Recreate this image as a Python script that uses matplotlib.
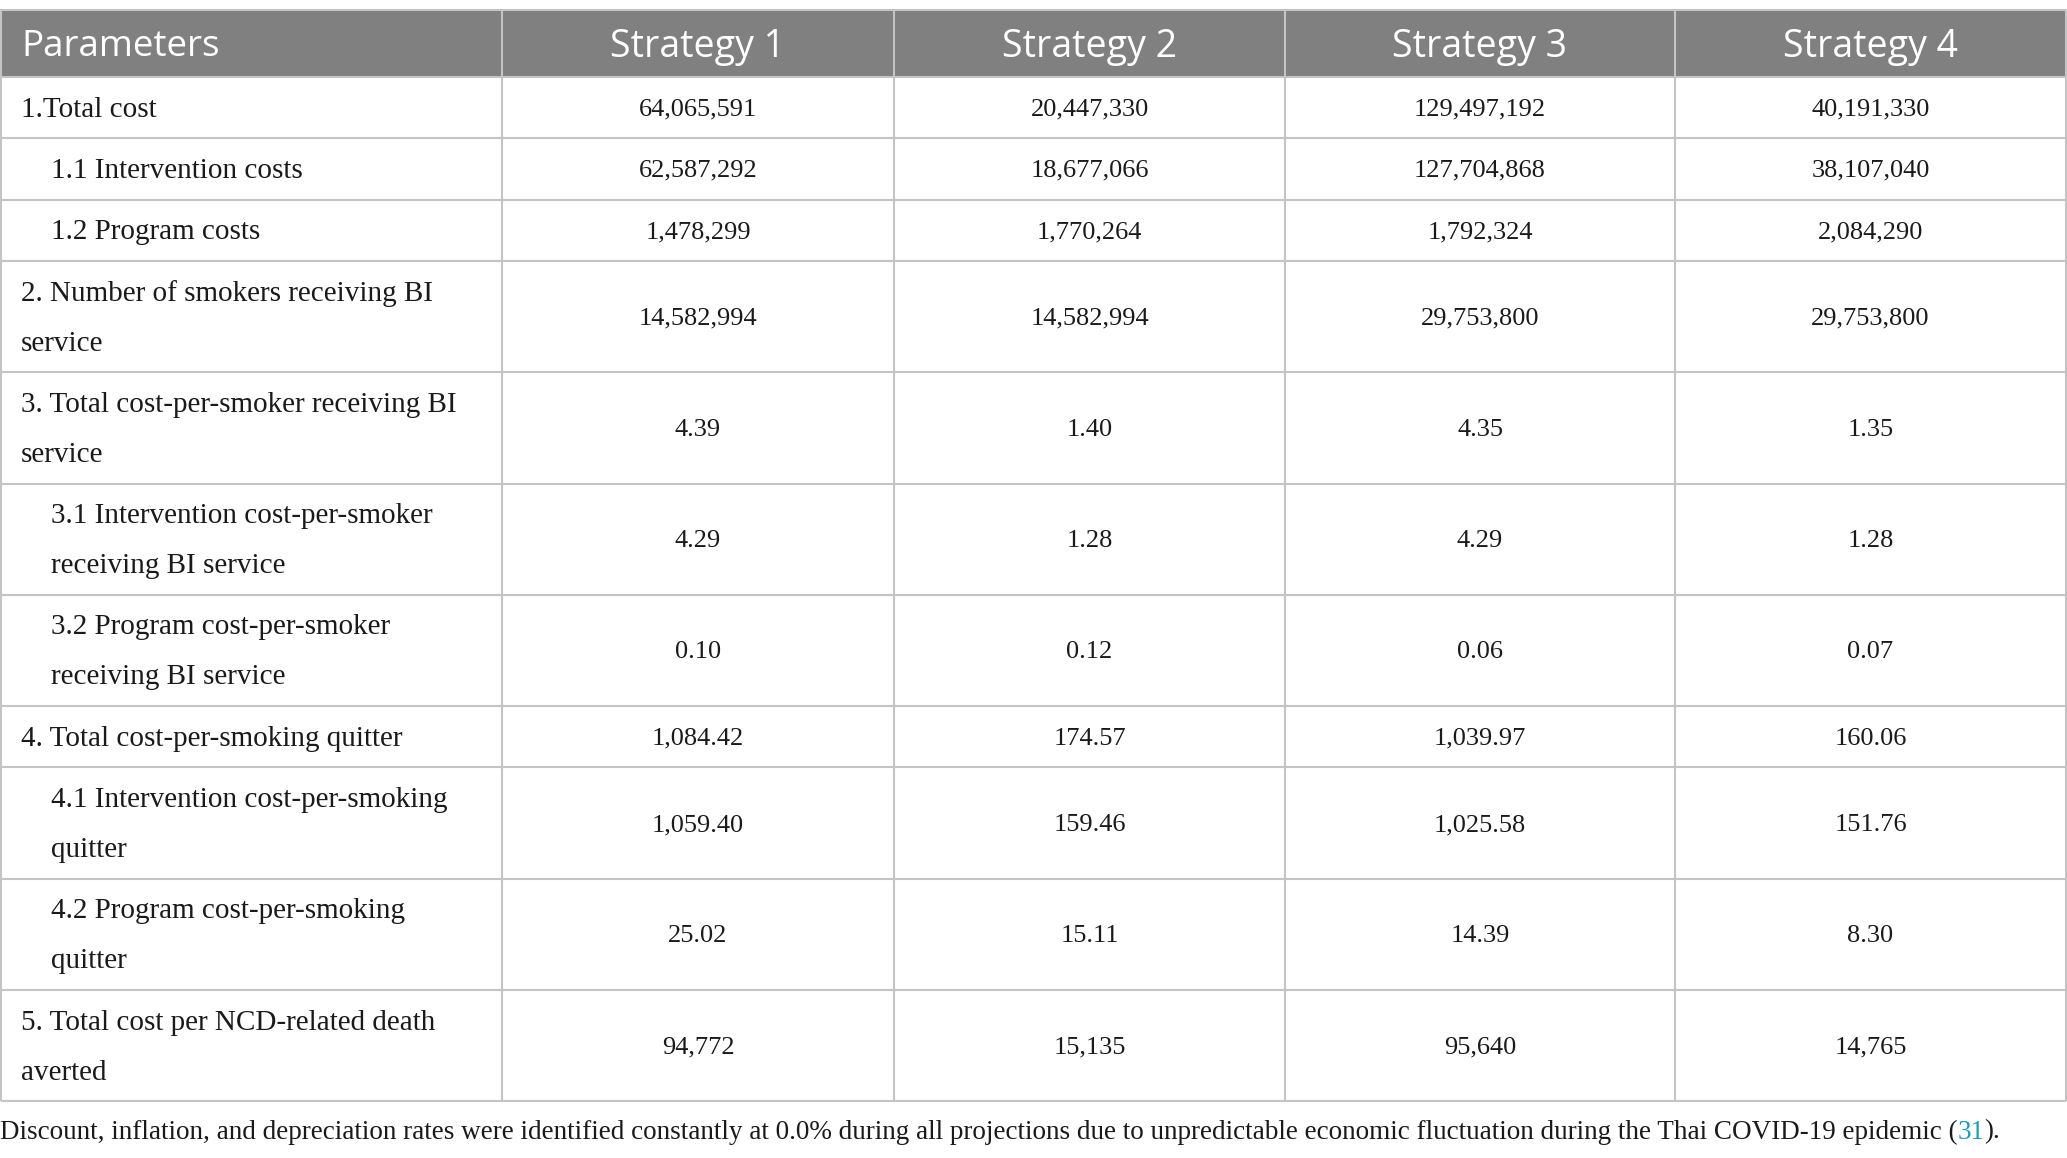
import matplotlib.pyplot as plt
from matplotlib.patches import Rectangle

# table content
header = ['Parameters', 'Strategy 1', 'Strategy 2', 'Strategy 3', 'Strategy 4']
params = ['1.Total cost',
          '1.1 Intervention costs',
          '1.2 Program costs',
          '2. Number of smokers receiving BI\nservice',
          '3. Total cost-per-smoker receiving BI\nservice',
          '3.1 Intervention cost-per-smoker\nreceiving BI service',
          '3.2 Program cost-per-smoker\nreceiving BI service',
          '4. Total cost-per-smoking quitter',
          '4.1 Intervention cost-per-smoking\nquitter',
          '4.2 Program cost-per-smoking\nquitter',
          '5. Total cost per NCD-related death\naverted']
sub_row = [False, True, True, False, False, True, True, False, True, True, False]
strategy1 = ['64,065,591', '62,587,292', '1,478,299', '14,582,994', '4.39', '4.29',
             '0.10', '1,084.42', '1,059.40', '25.02', '94,772']
strategy2 = ['20,447,330', '18,677,066', '1,770,264', '14,582,994', '1.40', '1.28',
             '0.12', '174.57', '159.46', '15.11', '15,135']
strategy3 = ['129,497,192', '127,704,868', '1,792,324', '29,753,800', '4.35', '4.29',
             '0.06', '1,039.97', '1,025.58', '14.39', '95,640']
strategy4 = ['40,191,330', '38,107,040', '2,084,290', '29,753,800', '1.35', '1.28',
             '0.07', '160.06', '151.76', '8.30', '14,765']
footnote = ('Discount, inflation, and depreciation rates were identified constantly at 0.0% '
            'during all projections due to unpredictable economic fluctuation during the '
            'Thai COVID-19 epidemic (')
ref_num = '31'

W, H = 2067, 1158
fig = plt.figure(figsize=(W / 100, H / 100), dpi=100)
ax = fig.add_axes([0, 0, 1, 1])
ax.set_xlim(0, W)
ax.set_ylim(H, 0)
ax.axis('off')

col_x = [1, 502, 894, 1285, 1675, 2066]
y_top, head_h, single_h, double_h = 10, 67, 61.3, 111.3
grid_c = '#c4c4c4'
lw = 1.5
serif = 'Liberation Serif'
sans = 'Open Sans'
ink = '#1a1a1a'

# header
ax.add_patch(Rectangle((col_x[0], y_top), col_x[-1] - col_x[0], head_h,
                       facecolor='#808080', edgecolor='none'))
for i, h in enumerate(header):
    yc = y_top + head_h / 2 + 4
    if i == 0:
        ax.text(21, yc, h, ha='left', va='center', color='white',
                fontsize=26.5, family=sans)
    else:
        ax.text((col_x[i] + col_x[i + 1]) / 2, yc, h, ha='center', va='center',
                color='white', fontsize=27, family=sans)

# body rows
columns = [strategy1, strategy2, strategy3, strategy4]
y = y_top + head_h
bounds = [y_top, y]
for r, label in enumerate(params):
    h = double_h if '\n' in label else single_h
    yc = y + h / 2
    ax.text(51 if sub_row[r] else 21, yc + 2, label, ha='left', va='center',
            fontsize=21, family=serif, color=ink, linespacing=2.2)
    for c, vals in enumerate(columns):
        ax.text((col_x[c + 1] + col_x[c + 2]) / 2, yc + 2, vals[r], ha='center',
                va='center', fontsize=19, family=serif, color=ink)
    y += h
    bounds.append(y)

# grid lines
for b in bounds[1:]:
    ax.plot([col_x[0], col_x[-1]], [b, b], color=grid_c, lw=lw,
            solid_capstyle='butt')
ax.plot([col_x[0], col_x[-1]], [y_top, y_top], color=grid_c, lw=lw)
for x in col_x:
    ax.plot([x, x], [y_top, bounds[-1]], color=grid_c, lw=lw,
            solid_capstyle='butt')

# footnote with coloured reference number
t1 = ax.text(0, 1132, footnote, ha='left', va='center', fontsize=19.5,
             family=serif, color=ink)
t2 = ax.annotate(ref_num, xy=(1, 0), xycoords=t1, ha='left', va='bottom',
                 fontsize=19.5, family=serif, color='#1b9db3')
ax.annotate(').', xy=(1, 0), xycoords=t2, ha='left', va='bottom',
            fontsize=19.5, family=serif, color=ink)

fig.savefig('out.png', dpi=100, facecolor='white')
